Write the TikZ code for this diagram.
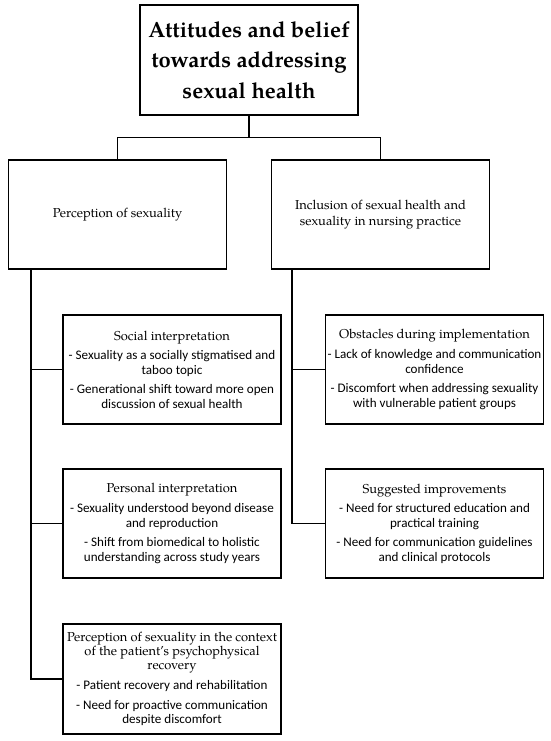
\documentclass[tikz,border=0pt]{standalone}
\usepackage{fontspec}
\setmainfont{texgyrepagella}[Extension=.otf, UprightFont=*-regular, BoldFont=*-bold, ItalicFont=*-italic, BoldItalicFont=*-bolditalic]
\newfontfamily\carl{Carlito}
\begin{document}
\begin{tikzpicture}[x=1pt,y=-1pt,
  box/.style={draw, line width=1.1pt, align=center, inner sep=0pt},
  topbox/.style={box, minimum width=218pt, minimum height=110pt, font=\bfseries\fontsize{22}{30.5}\selectfont},
  midbox/.style={box, minimum width=218pt, minimum height=109pt, font=\fontsize{12.9}{16}\selectfont},
  subbox/.style={box, minimum width=218pt, minimum height=109pt, font=\carl\fontsize{13.1}{14.3}\selectfont},
  conn/.style={line width=1.1pt}]
\useasboundingbox (0,0) rectangle (550,741);
\newcommand{\ttlf}[1]{{\rmfamily\fontsize{12.9}{16}\selectfont #1}}
\node[topbox] (top) at (249,60) {Attitudes and belief\\towards addressing\\sexual health};
\node[midbox] (left) at (117.5,214.5) {Perception of sexuality};
\node[midbox] (right) at (380.5,214.5) {Inclusion of sexual health and\\sexuality in nursing practice};
\node[subbox] (social) at (172,369.5) {\ttlf{Social interpretation}\\[5.5pt]- Sexuality as a socially stigmatised and\\taboo topic\\[5.5pt]- Generational shift toward more open\\discussion of sexual health};
\node[subbox] (obst) at (434.5,369.5) {\ttlf{Obstacles during implementation}\\[5.5pt]- Lack of knowledge and communication\\confidence\\[5.5pt]- Discomfort when addressing sexuality\\with vulnerable patient groups};
\node[subbox] (personal) at (172,523.5) {\ttlf{Personal interpretation}\\[5.5pt]- Sexuality understood beyond disease\\and reproduction\\[5.5pt]- Shift from biomedical to holistic\\understanding across study years};
\node[subbox] (suggest) at (434.5,523.5) {\ttlf{Suggested improvements}\\[5.5pt]- Need for structured education and\\practical training\\[5.5pt]- Need for communication guidelines\\and clinical protocols};
\node[subbox, minimum height=110pt] (recov) at (172,679) {\ttlf{Perception of sexuality in the context}\\\ttlf{of the patient’s psychophysical}\\\ttlf{recovery}\\[5.5pt]- Patient recovery and rehabilitation\\[5.5pt]- Need for proactive communication\\despite discomfort};
\draw[conn] (top.south) -- ++(0,22) -| (left.north);
\draw[conn] (top.south) -- ++(0,22) -| (right.north);
\draw[conn] ([xshift=23pt]left.south west) |- (social.west);
\draw[conn] ([xshift=23pt]left.south west) |- (personal.west);
\draw[conn] ([xshift=23pt]left.south west) |- (recov.west);
\draw[conn] ([xshift=21pt]right.south west) |- (obst.west);
\draw[conn] ([xshift=21pt]right.south west) |- (suggest.west);
\end{tikzpicture}
\end{document}
